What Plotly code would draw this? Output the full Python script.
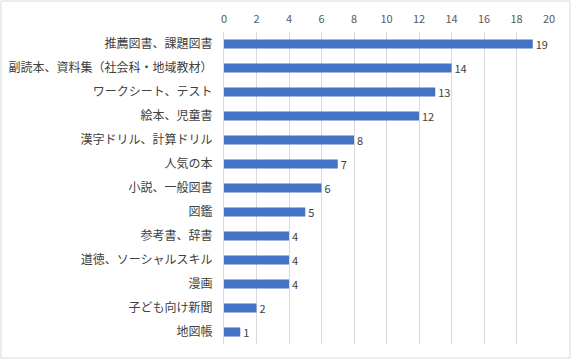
import plotly.graph_objects as go

categories = ["推薦図書、課題図書", "副読本、資料集（社会科・地域教材）", "ワークシート、テスト", "絵本、児童書",
              "漢字ドリル、計算ドリル", "人気の本", "小説、一般図書", "図鑑", "参考書、辞書",
              "道徳、ソーシャルスキル", "漫画", "子ども向け新聞", "地図帳"]
values = [19, 14, 13, 12, 8, 7, 6, 5, 4, 4, 4, 2, 1]
tick_vals = [0, 2, 4, 6, 8, 10, 12, 14, 16, 18, 20]

font_family = "Noto Sans CJK JP, Noto Sans, sans-serif"

fig = go.Figure(go.Bar(
    y=categories, x=values, orientation="h",
    marker=dict(color="#4472C4", line=dict(width=0)),
    text=[str(v) for v in values], textposition="outside",
    constraintext="none",
    textfont=dict(size=11, color="#404040", family=font_family),
    cliponaxis=False,
))

fig.update_layout(
    width=572, height=360,
    margin=dict(l=224, r=23, t=32, b=16, autoexpand=False),
    paper_bgcolor="white", plot_bgcolor="white",
    bargap=0.62,
    showlegend=False,
    font=dict(family=font_family, size=11, color="#595959"),
    xaxis=dict(range=[0, 20], side="top", tickvals=tick_vals, automargin=False,
               showgrid=True, gridcolor="#D9D9D9", gridwidth=1,
               zeroline=False, showline=False, ticks="",
               tickfont=dict(size=11, color="#595959"), ticklabelstandoff=6),
    yaxis=dict(autorange="reversed", showgrid=False, zeroline=False, automargin=False,
               showline=True, linecolor="#D9D9D9", ticks="",
               tickfont=dict(size=12, color="#404040"), ticklabelstandoff=8),
    shapes=[dict(type="rect", xref="paper", yref="paper",
                 x0=-223/325, x1=1+21/325, y0=-14/312, y1=1+31/312,
                 line=dict(color="#D9D9D9", width=1))],
)

fig.write_html("out.html", config={"displayModeBar": False},
               post_script="document.body.style.margin='0';document.body.style.padding='0';")
